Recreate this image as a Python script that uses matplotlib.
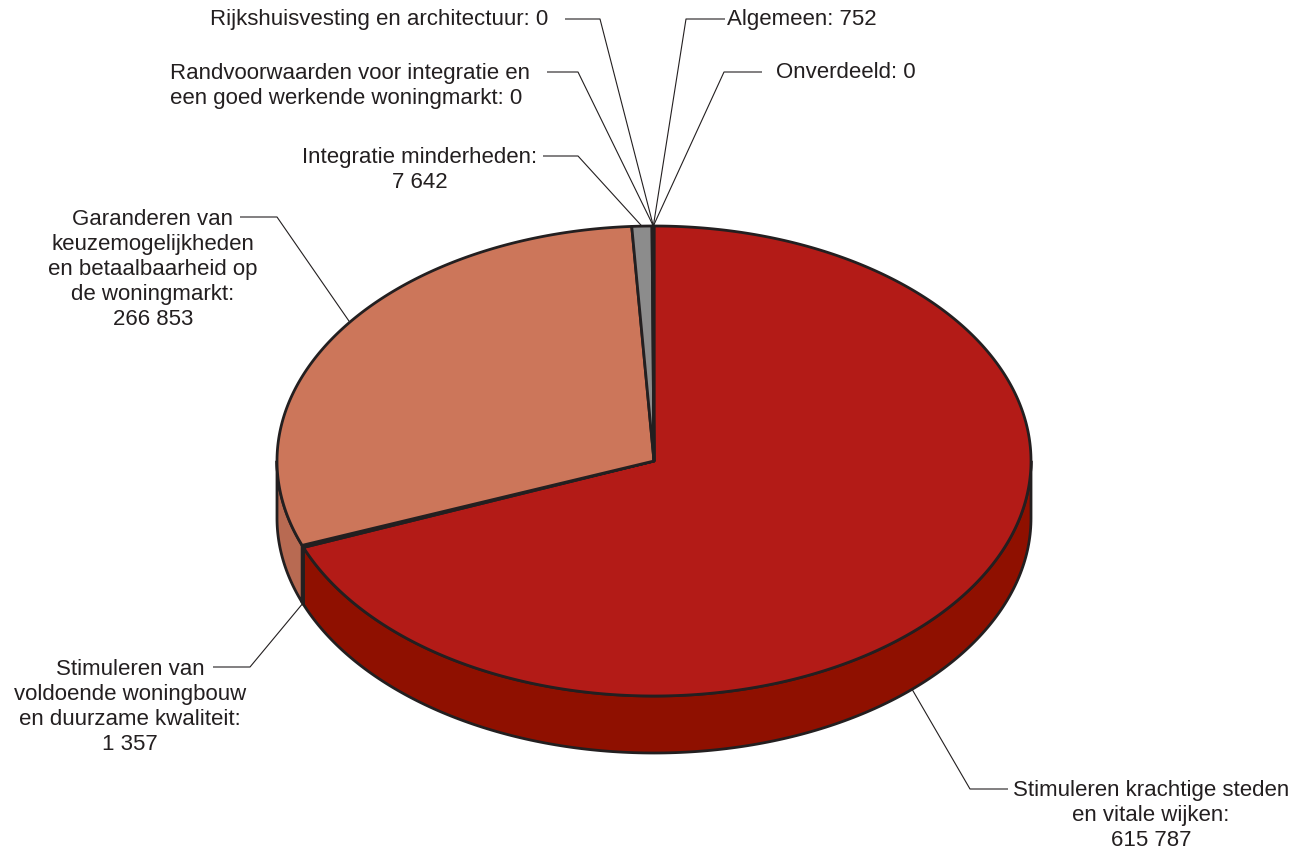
import numpy as np
import matplotlib
matplotlib.use("Agg")
import matplotlib.pyplot as plt
from matplotlib.patches import Polygon

# --- data (clockwise from 12 o'clock) ---
categories = [
    "Stimuleren krachtige steden\nen vitale wijken:",
    "Stimuleren van\nvoldoende woningbouw\nen duurzame kwaliteit:",
    "Garanderen van\nkeuzemogelijkheden\nen betaalbaarheid op\nde woningmarkt:",
    "Integratie minderheden:",
    "Randvoorwaarden voor integratie en\neen goed werkende woningmarkt:",
    "Rijkshuisvesting en architectuur:",
    "Algemeen:",
    "Onverdeeld:",
]
values = [615787, 1357, 266853, 7642, 0, 0, 752, 0]
value_on_new_line = [True, True, True, True, False, False, False, False]

top_colors = ["#B31B17", "#8A2A1C", "#CC765A", "#8C8C8C", "#8C8C8C", "#8C8C8C", "#4D4D4D", "#8C8C8C"]
side_colors = ["#8F1000", "#6E1E12", "#B86A52", "#707070", "#707070", "#707070", "#3A3A3A", "#707070"]

# --- layout (pixels) ---
CX, CY, RX, RY, DEPTH = 654, 462, 377, 235, 57
EDGE = "#231F20"
LINE_H = 26

# text anchor x, first-line y, alignment
label_x = [1151, 130, 153, 420, 170, 548, 727, 776]
label_y = [790, 668, 218, 157, 73, 20, 20, 73]
label_ha = ["center", "center", "center", "center", "left", "right", "left", "left"]
# leader: horizontal segment (start x, elbow x), then to a point on the pie
lead_x0 = [1008, 213, 240, 543, 547, 565, 725, 762]
lead_x1 = [970, 250, 277, 578, 578, 600, 686, 724]
lead_angle = [136.8, None, 306.2, None, 359.9, 359.9, 359.9, 359.9]  # None -> slice middle
lead_bottom = [True, True, False, False, False, False, False, False]


def ell(t, dy=0.0):
    a = np.radians(90 - np.asarray(t))
    return np.column_stack([CX + RX * np.cos(a), CY - RY * np.sin(a) + dy])


def fmt(v):
    return f"{v:,}".replace(",", " ")


def main():
    fig = plt.figure(figsize=(13.1, 8.54), dpi=100)
    ax = fig.add_axes([0, 0, 1, 1])
    ax.set_xlim(0, 1310)
    ax.set_ylim(854, 0)
    ax.axis("off")

    vals = np.array(values, dtype=float)
    ends = np.cumsum(vals) / vals.sum() * 360
    starts = ends - vals / vals.sum() * 360

    # --- side wall (front half only) ---
    for a0, a1, v, c in zip(starts, ends, values, side_colors):
        if v == 0:
            continue
        s0, s1 = max(a0, 90), min(a1, 270)
        if s1 <= s0:
            continue
        ts = np.linspace(s0, s1, 200)
        pts = np.vstack([ell(ts), ell(ts[::-1], DEPTH)])
        ax.add_patch(Polygon(pts, closed=True, fc=c, ec=EDGE, lw=2.0, joinstyle="round"))

    # --- top face ---
    for a0, a1, v, c in zip(starts, ends, values, top_colors):
        if v == 0:
            continue
        ts = np.linspace(a0, a1, max(int((a1 - a0) * 2), 4))
        pts = np.vstack([[CX, CY], ell(ts)])
        ax.add_patch(Polygon(pts, closed=True, fc=c, ec=EDGE, lw=2.0, joinstyle="round"))

    # --- labels with leader lines ---
    for i, (cat, v) in enumerate(zip(categories, values)):
        txt = cat + ("\n" if value_on_new_line[i] else " ") + fmt(v)
        n = txt.count("\n") + 1
        yc = label_y[i] + (n - 1) * LINE_H / 2
        ax.text(label_x[i], yc, txt, ha=label_ha[i], va="center",
                multialignment=label_ha[i], fontsize=16, color=EDGE,
                family=["Liberation Sans", "DejaVu Sans"], linespacing=1.25)

        ang = lead_angle[i] if lead_angle[i] is not None else (starts[i] + ends[i]) / 2
        end = ell([ang], DEPTH if lead_bottom[i] else 0)[0]
        ax.plot([lead_x0[i], lead_x1[i], end[0]], [label_y[i], label_y[i], end[1]],
                color=EDGE, lw=0.8, solid_capstyle="butt")

    fig.savefig("out.png", dpi=100, facecolor="white")
    plt.close(fig)


if __name__ == "__main__":
    main()
